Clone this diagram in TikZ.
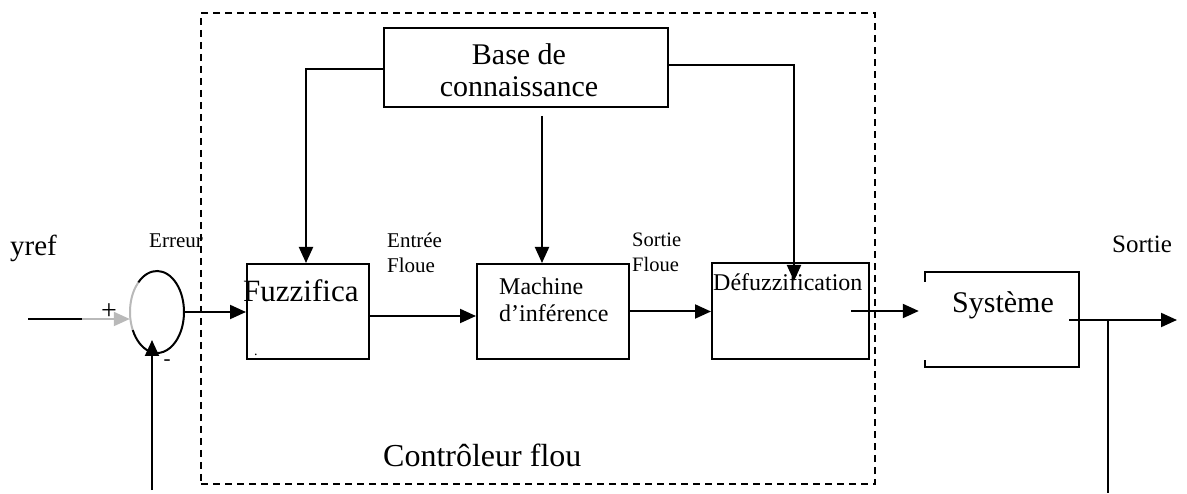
\documentclass[tikz,border=0pt]{standalone}
\usepackage{fontspec}
\setmainfont{Liberation Serif}
\usetikzlibrary{arrows.meta,calc,shapes.geometric}
\newcommand{\fs}[2]{\fontsize{#1}{#2}\selectfont}
\tikzset{
  ln/.style={line width=2pt},
  arr/.style={ln,-{Triangle[length=16pt,width=14pt]}},
  garr/.style={line width=2pt,gray!55,-{Triangle[length=16pt,width=14pt]}},
  blk/.style={draw,line width=2pt,inner sep=0pt,rectangle},
  dashbox/.style={draw,line width=1.6pt,dash pattern=on 7pt off 5pt,inner sep=0pt,rectangle},
  txt/.style={inner sep=0pt,anchor=base west,align=left},
}
\begin{document}
\begin{tikzpicture}[x=1pt,y=-1pt]
\useasboundingbox (0,0) rectangle (1187,494);
% dashed controller frame
\node[dashbox,minimum width=674pt,minimum height=471pt] (ctrl) at (538,248.5) {};
% blocks
\node[blk,minimum width=284pt,minimum height=79pt] (base) at (526,67.5) {};
\node[blk,minimum width=122pt,minimum height=95pt] (fuzz) at (308,311.5) {};
\node[blk,minimum width=152pt,minimum height=95pt] (mach) at (553,311.5) {};
\node[blk,minimum width=157pt,minimum height=96pt] (defz) at (790.5,311) {};
\node[inner sep=0pt,minimum width=154pt,minimum height=95pt] (sys) at (1002,319.5) {};
\draw[ln] ($(sys.north west)+(0,10)$) -- (sys.north west) -- (sys.north east)
  -- (sys.south east) -- (sys.south west) -- ($(sys.south west)+(0,-7)$);
% summing junction
\node[ellipse,inner sep=0pt,minimum width=54pt,minimum height=82pt] (sum) at (157,312) {};
\draw[ln] ([shift={(134:27pt and 41pt)}]sum.center) arc[start angle=134,end angle=-154,x radius=27pt,y radius=41pt];
\draw[line width=2pt,gray!55] ([shift={(134:27pt and 41pt)}]sum.center) arc[start angle=134,end angle=206,x radius=27pt,y radius=41pt];
% texts
\node[txt,font=\fs{29}{32}] (tyref) at (10,256) {yref};
\node[inner sep=0pt,font=\fs{28}{30}] (tplus) at (109,312) {+};
\node[inner sep=0pt,font=\fs{21}{24}] (tminus) at (167,363) {-};
\node[txt,font=\fs{21}{25}] (terr) at (149,248) {Erreur};
\node[txt,font=\fs{31}{34}] (tfuzz) at (243,302) {Fuzzifica};
\node[txt,font=\fs{14}{16}] (tdot) at (254,356) {.};
\node[txt,font=\fs{21}{25}] (tent) at (387,273) {Entrée\\Floue};
\node[txt,font=\fs{24}{27}] (tmach) at (499,322) {Machine\\d’inférence};
\node[txt,font=\fs{20.5}{25}] (tsf) at (632,272) {Sortie\\Floue};
\node[txt,font=\fs{24}{27}] (tdefz) at (713,291) {Défuzzification};
\node[txt,font=\fs{30}{34}] (tsys) at (952,313) {Système};
\node[txt,font=\fs{25}{28}] (tsortie) at (1112,253) {Sortie};
\node[txt,font=\fs{32}{36}] (tctrl) at (383,466) {Contrôleur flou};
\node[inner sep=0pt,anchor=base,align=center,font=\fs{30}{32}] (tbase) at (519,97) {Base de\\connaissance};
% coordinates
\coordinate (in) at (28,319);
\coordinate (mid) at (82,319);
\coordinate (fbl) at (152,490);
\coordinate (out) at (1177,320);
\coordinate (fbtop) at (1108,320);
\coordinate (fbbot) at (1108,493);
% connectors
\draw[ln] (in) -- (mid);
\draw[garr] (mid) -- (mid -| sum.west);
\draw[arr] (fbl) -- ($(sum.center)+(-5,28)$);
\draw[arr] (sum.east) -- (sum.east -| fuzz.west);
\draw[arr] ([yshift=-1.5pt]base.west) -| ([xshift=-2pt]fuzz.north);
\draw[arr] ([xshift=16pt,yshift=-8pt]base.south) -- ([xshift=-11pt]mach.north);
\draw[arr] ([yshift=2pt]base.east) -| ($(defz.north)+(3.5,19)$);
\draw[arr] ([yshift=-4.5pt]fuzz.east) -- ([yshift=-4.5pt]mach.west);
\draw[arr] (mach.east) -- (mach.east -| defz.west);
\draw[arr] ([xshift=-19pt]defz.east) -- ([xshift=-6pt]sys.west |- defz.east);
\draw[arr] ([xshift=-10pt]sys.east |- out) -- (out);
\draw[ln] (fbtop) -- (fbbot);
\end{tikzpicture}
\end{document}
